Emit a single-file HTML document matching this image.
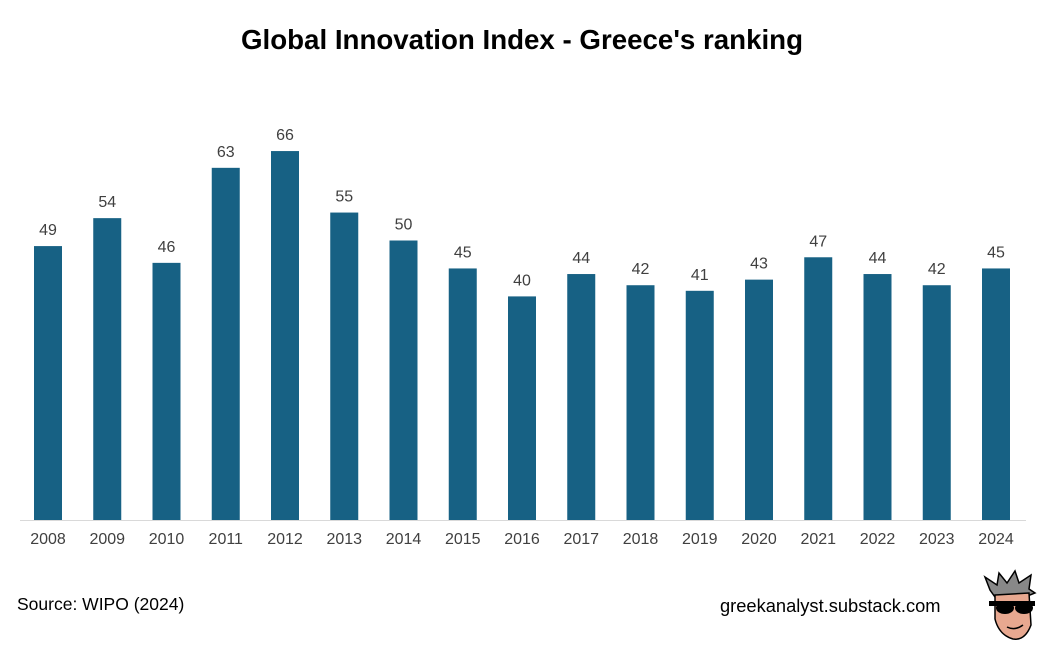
<!DOCTYPE html>
<html><head><meta charset="utf-8"><style>
body{margin:0;background:#fff;font-family:"Liberation Sans",Arial,sans-serif;}
#wrap{position:relative;width:1060px;height:650px;overflow:hidden;}
</style></head><body>
<div id="wrap">
<svg id="chart" width="1060" height="650">
<text x="522" y="49" text-anchor="middle" font-size="27.7" font-weight="bold" fill="#000">Global Innovation Index - Greece's ranking</text>
<line x1="20" y1="520.5" x2="1026" y2="520.5" stroke="#d9d9d9" stroke-width="1"/>
<g id="bars"></g>
<text x="17" y="610" font-size="17.5" fill="#000">Source: WIPO (2024)</text>
<text x="720" y="612" font-size="18.3" fill="#000">greekanalyst.substack.com</text>
<g transform="translate(985,575)">
<polygon points="5,15 0,2 12,10 14,-2 22,8 30,-4 34,8 46,0 44,14 50,18 40,22 10,22" fill="#888" stroke="#000" stroke-width="1.5"/>
<path d="M10,20 L44,18 L46,50 Q40,66 28,64 Q14,60 10,44 Z" fill="#e8a890" stroke="#000" stroke-width="1.5"/>
<rect x="4" y="26" width="46" height="5" fill="#000"/>
<ellipse cx="20" cy="33" rx="9" ry="6" fill="#000"/>
<ellipse cx="39" cy="33" rx="9" ry="6" fill="#000"/>
<path d="M22,52 Q30,56 38,50" stroke="#000" stroke-width="1.5" fill="none"/>
</g>
</svg>
</div>
<script>
const years=["2008","2009","2010","2011","2012","2013","2014","2015","2016","2017","2018","2019","2020","2021","2022","2023","2024"];
const ranks=[49,54,46,63,66,55,50,45,40,44,42,41,43,47,44,42,45];
const NS="http://www.w3.org/2000/svg";
const base=520, scale=5.59, x0=48, step=59.25, bw=28;
function xPos(i){return x0+i*step;}
function yPos(v){return base-v*scale;}
const g=document.getElementById('bars');
years.forEach((yr,i)=>{
  const r=document.createElementNS(NS,'rect');
  r.setAttribute('x',xPos(i)-bw/2);r.setAttribute('y',yPos(ranks[i]));
  r.setAttribute('width',bw);r.setAttribute('height',base-yPos(ranks[i]));
  r.setAttribute('fill','#176184');
  
  
  g.appendChild(r);
  const t=document.createElementNS(NS,'text');
  t.setAttribute('x',xPos(i));t.setAttribute('y',yPos(ranks[i])-11);
  t.setAttribute('text-anchor','middle');t.setAttribute('font-size','16');t.setAttribute('fill','#404040');
  t.textContent=ranks[i];
  
  
  g.appendChild(t);
  const l=document.createElementNS(NS,'text');
  l.setAttribute('x',xPos(i));l.setAttribute('y',544);
  l.setAttribute('text-anchor','middle');l.setAttribute('font-size','16');l.setAttribute('fill','#404040');
  l.textContent=yr;
  
  
  g.appendChild(l);
});
</script>
</body></html>
